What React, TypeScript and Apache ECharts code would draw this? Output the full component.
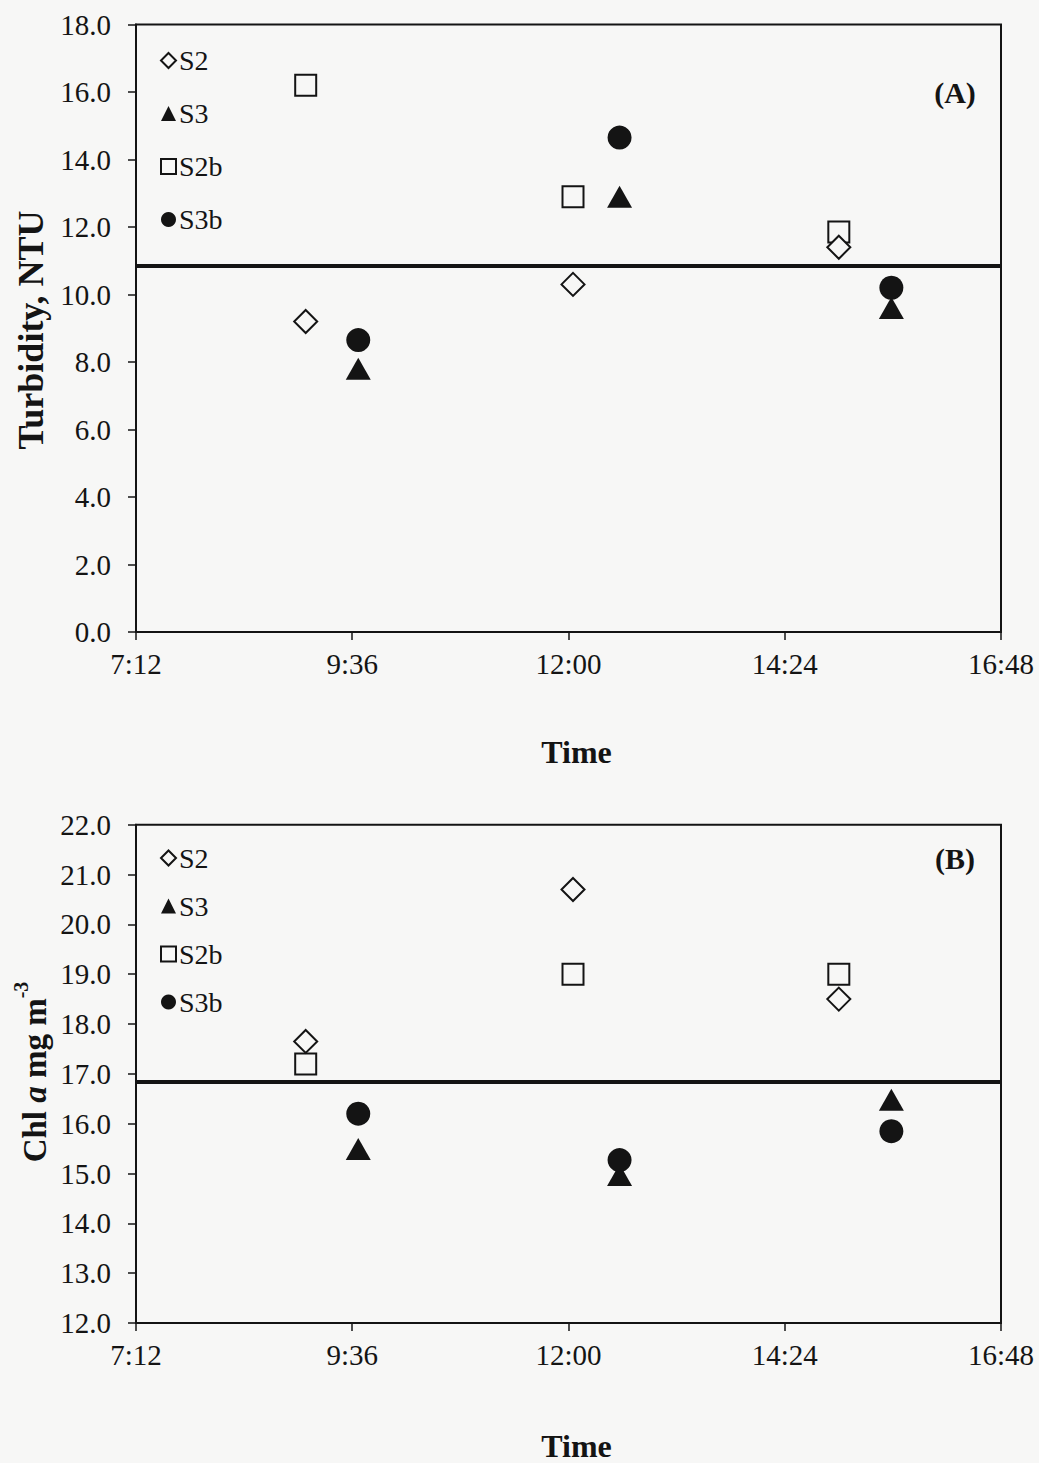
import React, { useEffect, useRef } from "react";
import * as echarts from "echarts";

// Sampling times (h:mm) for the two station pairs
const timesS2 = ["9:05", "12:03", "15:00"];
const timesS3 = ["9:40", "12:34", "15:35"];

// (A) Turbidity, NTU
const turbS2 = [9.2, 10.3, 11.4];
const turbS3 = [7.8, 12.9, 9.6];
const turbS2b = [16.2, 12.9, 11.85];
const turbS3b = [8.65, 14.65, 10.2];
const turbMedian = 10.85;

// (B) Chl a, mg m-3
const chlS2 = [17.65, 20.7, 18.5];
const chlS3 = [15.49, 14.97, 16.48];
const chlS2b = [17.2, 19.0, 19.0];
const chlS3b = [16.2, 15.27, 15.85];
const chlMedian = 16.85;

// Axis tick settings
const timeMin = "7:12";
const timeMax = "16:48";
const timeStep = "2:24";
const turbTicks = { min: 0, max: 18, step: 2 };
const chlTicks = { min: 12, max: 22, step: 1 };

const seriesNames = ["S2", "S3", "S2b", "S3b"];

const toHours = (t: string) => {
  const [h, m] = t.split(":").map(Number);
  return h + m / 60;
};
const fmtTime = (v: number) => {
  const total = Math.round(v * 60);
  const h = Math.floor(total / 60);
  const m = total % 60;
  return `${h}:${m < 10 ? "0" : ""}${m}`;
};
const pts = (times: string[], vals: number[]) =>
  times.map((t, i) => [toHours(t), vals[i]]);

const FONT = "'Liberation Serif', 'DejaVu Serif', serif";
const INK = "#141414";
const BG = "#f7f7f6";

const symbolStyles: Record<string, any> = {
  S2: { symbol: "diamond", symbolSize: 23, itemStyle: { color: BG, borderColor: INK, borderWidth: 2, opacity: 1 } },
  S3: { symbol: "triangle", symbolSize: [25, 22], itemStyle: { color: INK, opacity: 1 } },
  S2b: { symbol: "rect", symbolSize: 21, itemStyle: { color: BG, borderColor: INK, borderWidth: 2, opacity: 1 } },
  S3b: { symbol: "circle", symbolSize: 24, itemStyle: { color: INK, opacity: 1 } },
};
const zOrder: Record<string, number> = { S2: 4, S3: 3, S2b: 2, S3b: 3 };

export default function App() {
  const ref = useRef<HTMLDivElement>(null);

  useEffect(() => {
    if (!ref.current) return;
    const chart = echarts.init(ref.current, null, { renderer: "svg" });

    const grids = [
      { left: 136, top: 24.5, width: 865, height: 607.5 },
      { left: 136, top: 824.7, width: 865, height: 503 },
    ];
    const nameGaps = [104, 107];

    const xMin = toHours(timeMin);
    const xMax = toHours(timeMax);
    const xStep = toHours(timeStep);

    const xAxis = grids.map((_, i) => ({
      type: "value",
      gridIndex: i,
      min: xMin,
      max: xMax,
      interval: xStep,
      axisLine: { show: true, onZero: false, lineStyle: { color: INK, width: 2 } },
      axisTick: { show: true, inside: false, length: 8, lineStyle: { color: INK, width: 1.5 } },
      axisLabel: {
        formatter: (v: number) => fmtTime(v),
        fontFamily: FONT,
        fontSize: 29,
        color: INK,
        margin: 17,
        showMinLabel: true,
        showMaxLabel: true,
      },
      splitLine: { show: false },
      name: "Time",
      nameLocation: "middle",
      nameGap: nameGaps[i],
      nameTextStyle: { fontFamily: FONT, fontSize: 32, fontWeight: "bold", color: INK, padding: [0, 0, 0, 16] },
    }));

    const yCfg = [turbTicks, chlTicks];
    const yAxis = yCfg.map((c, i) => ({
      type: "value",
      gridIndex: i,
      min: c.min,
      max: c.max,
      interval: c.step,
      axisLine: { show: true, onZero: false, lineStyle: { color: INK, width: 2 } },
      axisTick: { show: true, inside: false, length: 8, lineStyle: { color: INK, width: 1.5 } },
      axisLabel: {
        formatter: (v: number) => v.toFixed(1),
        fontFamily: FONT,
        fontSize: 29,
        color: INK,
        margin: 25,
      },
      splitLine: { show: false },
    }));

    const dataSets = [
      { S2: pts(timesS2, turbS2), S3: pts(timesS3, turbS3), S2b: pts(timesS2, turbS2b), S3b: pts(timesS3, turbS3b), median: turbMedian },
      { S2: pts(timesS2, chlS2), S3: pts(timesS3, chlS3), S2b: pts(timesS2, chlS2b), S3b: pts(timesS3, chlS3b), median: chlMedian },
    ];

    const series: any[] = [];
    dataSets.forEach((ds: any, gi) => {
      // study-long median as a solid reference line
      series.push({
        name: "median",
        type: "line",
        xAxisIndex: gi,
        yAxisIndex: gi,
        data: [],
        silent: true,
        markLine: {
          silent: true,
          symbol: "none",
          label: { show: false },
          lineStyle: { color: INK, width: 4, type: "solid" },
          data: [{ yAxis: ds.median }],
        },
        z: 1,
      });
      seriesNames.forEach((n) => {
        series.push({
          name: n,
          type: "scatter",
          xAxisIndex: gi,
          yAxisIndex: gi,
          data: ds[n],
          ...symbolStyles[n],
          z: zOrder[n] + 2,
        });
      });
    });

    const legendBase = {
      data: seriesNames,
      orient: "vertical",
      left: 155,
      itemWidth: 15,
      itemHeight: 15,
      itemGap: 0,
      selectedMode: false,
      textStyle: { fontFamily: FONT, fontSize: 28, color: INK, padding: [0, 0, 0, -2] },
    };

    const titleStyle = { fontFamily: FONT, fontWeight: "bold", fill: INK };

    chart.setOption({
      animation: false,
      backgroundColor: BG,
      grid: grids.map((g) => ({ ...g, show: true, borderColor: INK, borderWidth: 2, backgroundColor: "transparent" })),
      xAxis,
      yAxis,
      legend: [
        { ...legendBase, top: 29, textStyle: { ...legendBase.textStyle, lineHeight: 53 } },
        { ...legendBase, top: 829, textStyle: { ...legendBase.textStyle, lineHeight: 48 } },
      ],
      series,
      graphic: [
        {
          type: "text",
          x: 31,
          y: 330,
          rotation: Math.PI / 2,
          style: { ...titleStyle, fontSize: 36, text: "Turbidity, NTU", align: "center", verticalAlign: "middle" },
        },
        {
          type: "text",
          x: 31,
          y: 1072,
          rotation: Math.PI / 2,
          style: {
            text: "{b|Chl }{i|a}{b| mg m}{s|-3}",
            align: "center",
            verticalAlign: "middle",
            fontFamily: FONT,
            fill: INK,
            rich: {
              b: { fontFamily: FONT, fontSize: 33, fontWeight: "bold", fill: INK, lineHeight: 40, verticalAlign: "bottom" },
              i: { fontFamily: FONT, fontSize: 33, fontWeight: "bold", fontStyle: "italic", fill: INK, lineHeight: 40, verticalAlign: "bottom" },
              s: { fontFamily: FONT, fontSize: 20, fontWeight: "bold", fill: INK, lineHeight: 40, verticalAlign: "top" },
            },
          },
        },
        {
          type: "text",
          x: 955,
          y: 92,
          style: { ...titleStyle, fontSize: 30, text: "(A)", align: "center", verticalAlign: "middle" },
        },
        {
          type: "text",
          x: 955,
          y: 858,
          style: { ...titleStyle, fontSize: 30, text: "(B)", align: "center", verticalAlign: "middle" },
        },
      ],
    });

    return () => chart.dispose();
  }, []);

  return (
    <div
      ref={ref}
      style={{ position: "absolute", left: 0, top: 0, width: 1039, height: 1463 }}
    />
  );
}
